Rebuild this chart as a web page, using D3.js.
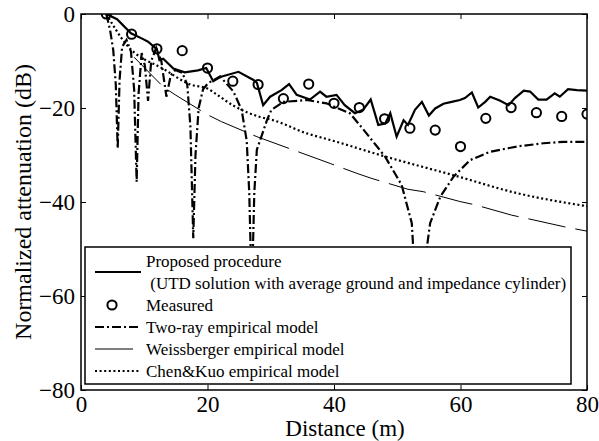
<!DOCTYPE html>
<html>
<head>
<meta charset="utf-8">
<script src="https://cdn.jsdelivr.net/npm/d3@7"></script>
<style>
  body { margin: 0; background: #fff; }
  svg { display: block; }
  svg text { font-family: "Liberation Serif", "Times New Roman", serif; }
</style>
</head>
<body>
<svg id="drawing_region"></svg>
<script>
// values (distance in m, normalized attenuation in dB)
const measuredDist = [4, 8, 12, 16, 20, 24, 28, 32, 36, 40, 44, 48, 52, 56, 60, 64, 68, 72, 76, 80];
const measuredDb = [0, -4.3, -7.4, -7.8, -11.5, -14.3, -15.0, -18.0, -14.9, -19.0, -19.9, -22.3, -24.3, -24.7, -28.2, -22.2, -19.9, -21.0, -21.8, -21.3];

const proposedDist = [4, 5.7, 7.9, 9.9, 10.6, 12.0, 12.4, 13.0, 14.6, 16.4, 18.5, 19.8, 20.9, 22.0, 24.9, 27.2, 27.8, 28.8, 29.9, 31.7,
    32.9, 34.1, 36.2, 37.8, 38.8, 40.4, 41.7, 43.3, 44.6, 45.8, 47.0, 48.1, 48.9, 49.9, 51.0, 51.7, 52.8, 53.9, 55.0, 56.0,
    57.3, 58.6, 59.9, 60.7, 61.8, 62.8, 63.9, 64.7, 66.2, 67.6, 68.6, 70.0, 71.0, 72.3, 73.6, 74.9, 75.7, 77.0, 78.4, 80];
const proposedDb = [0, -1.1, -4.1, -5.4, -5.9, -7.5, -9.8, -9.5, -11.6, -12.4, -12.0, -11.5, -14.3, -13.4, -12.3, -14.0, -14.6, -19.4, -17.6, -16.2,
    -14.9, -17.2, -18.2, -16.5, -17.6, -17.2, -19.4, -21.1, -20.4, -18.2, -23.6, -23.3, -21.1, -26.1, -22.6, -23.6, -20.4, -18.7, -21.6, -20.1,
    -19.1, -18.7, -18.3, -17.9, -16.7, -19.9, -18.7, -17.6, -18.4, -19.4, -17.9, -16.3, -16.5, -18.2, -18.2, -16.9, -17.6, -16.0, -16.2, -16.3];

const twoRayDist = [4, 4.6, 5.1, 5.5, 5.8, 6.1, 6.5, 7.2, 7.9, 8.4, 8.8, 9.1, 9.6, 10.1, 10.6, 11.1, 11.9, 12.7, 13.5, 14.2,
    14.9, 16.0, 16.8, 17.3, 17.75, 18.1, 18.6, 19.3, 20.1, 22.0, 24.1, 25.4, 26.2, 26.6, 27.0, 27.4, 27.8, 29.4, 30.1, 32.0,
    35.7, 38.8, 42.5, 44.6, 46.8, 48.1, 50.7, 52.3, 53.6, 54.7, 55.2, 56.8, 58.9, 61.5, 64.7, 68.9, 73.1, 76.3, 80];
const twoRayDb = [0, -3.4, -7.7, -15, -28.6, -14, -7, -5.5, -8, -16, -35.7, -17, -8.3, -11, -18.5, -10, -7.2, -10, -17.6, -13,
    -11.9, -12.5, -15, -24, -47.7, -30, -20, -16, -14.7, -13.3, -16.5, -20.4, -27, -38, -60, -38, -28.9, -22.6, -20.4, -18.7,
    -18.3, -19.0, -21.1, -24.5, -28.2, -30.4, -36.4, -44.5, -75, -49.5, -44.5, -38.9, -34.6, -31.1, -29.3, -28.2, -27.5, -27.2, -27.2];

const weissDist = [8.4, 13.0, 14.9, 20.1, 22.2, 27.8, 39.4, 43.6, 46.0, 51.7, 54.1, 59.9, 62.3, 68.1, 70.5, 76.5, 80];
const weissDb = [-9.2, -15.5, -17.2, -21.5, -22.9, -26.1, -31.8, -33.9, -35.0, -37.3, -37.8, -39.9, -40.6, -42.8, -43.5, -45.3, -46.2];

const chenDist = [4, 7, 13.3, 17.5, 19.9, 21.2, 24.1, 28.3, 30.4, 35.7, 39.4, 48.3, 58.9, 68.9, 80];
const chenDb = [0, -6.2, -11.9, -15.1, -15.8, -16.9, -19.5, -21.9, -22.6, -25.4, -26.8, -30.4, -34.3, -38.1, -40.9];

const xTicks = [0, 20, 40, 60, 80];
const yTicks = [0, -20, -40, -60, -80];
const legendLabels = ["Proposed procedure", " (UTD solution with average ground and impedance cylinder)",
    "Measured", "Two-ray empirical model", "Weissberger empirical model", "Chen&Kuo empirical model"];

const SERIF = '"Liberation Serif", "Times New Roman", serif';

class AttenuationChart {

    constructor(config) {
        this.config = config;
        this.init();
    }

    init() {
        let self = this;
        const c = self.config;

        self.svg = d3.select(c.parent)
            .attr('width', c.width)
            .attr('height', c.height)
            .attr('font-family', SERIF);

        self.x = d3.scaleLinear()
            .domain([0, 80])
            .range([c.margin.left, c.width - c.margin.right]);
        self.y = d3.scaleLinear()
            .domain([-80, 0])
            .range([c.height - c.margin.bottom, c.margin.top]);

        self.svg.append('clipPath')
            .attr('id', 'plot-clip')
            .append('rect')
            .attr('x', self.x(0))
            .attr('y', self.y(0))
            .attr('width', self.x(80) - self.x(0))
            .attr('height', self.y(-80) - self.y(0));
    }

    render() {
        let self = this;
        const x = self.x, y = self.y;

        const series = [
            {dist: proposedDist, db: proposedDb, width: 2.2, dash: null, curve: d3.curveLinear},
            {dist: twoRayDist, db: twoRayDb, width: 2.2, dash: '9,3,2,3', curve: d3.curveLinear},
            {dist: weissDist, db: weissDb, width: 1, dash: '38,10', curve: d3.curveLinear},
            {dist: chenDist, db: chenDb, width: 2.2, dash: '2,2.6', curve: d3.curveMonotoneX}
        ];

        const plot = self.svg.append('g').attr('clip-path', 'url(#plot-clip)');

        series.forEach(s => {
            const line = d3.line()
                .x(i => x(s.dist[i]))
                .y(i => y(s.db[i]))
                .curve(s.curve);
            plot.append('path')
                .attr('d', line(d3.range(s.dist.length)))
                .attr('fill', 'none')
                .attr('stroke', 'black')
                .attr('stroke-width', s.width)
                .attr('stroke-dasharray', s.dash);
        });

        plot.selectAll('.measured')
            .data(d3.range(measuredDist.length))
            .enter()
            .append('circle')
            .attr('class', 'measured')
            .attr('cx', i => x(measuredDist[i]))
            .attr('cy', i => y(measuredDb[i]))
            .attr('r', 4.6)
            .attr('fill', 'none')
            .attr('stroke', 'black')
            .attr('stroke-width', 2);

        // axes: ticks pointing inward on all four sides
        const tickFont = g => {
            g.attr('font-family', SERIF);
            g.selectAll('text')
                .attr('font-size', '23px')
                .attr('font-family', SERIF)
                .attr('fill', 'black');
        };

        self.svg.append('g')
            .attr('transform', `translate(0, ${y(-80)})`)
            .call(d3.axisBottom(x).tickValues(xTicks).tickSizeInner(-5).tickSizeOuter(0).tickPadding(6))
            .call(g => g.select('.domain').remove())
            .call(tickFont);
        self.svg.append('g')
            .attr('transform', `translate(0, ${y(0)})`)
            .call(d3.axisTop(x).tickValues(xTicks).tickSizeInner(-5).tickSizeOuter(0).tickFormat(''))
            .call(g => g.select('.domain').remove());
        self.svg.append('g')
            .attr('transform', `translate(${x(0)}, 0)`)
            .call(d3.axisLeft(y).tickValues(yTicks).tickSizeInner(-5).tickSizeOuter(0).tickPadding(6))
            .call(g => g.select('.domain').remove())
            .call(tickFont);
        self.svg.append('g')
            .attr('transform', `translate(${x(80)}, 0)`)
            .call(d3.axisRight(y).tickValues(yTicks).tickSizeInner(-5).tickSizeOuter(0).tickFormat(''))
            .call(g => g.select('.domain').remove());
        self.svg.selectAll('.tick line').attr('stroke', 'black').attr('stroke-width', 1);

        self.svg.append('rect')
            .attr('x', x(0))
            .attr('y', y(0))
            .attr('width', x(80) - x(0))
            .attr('height', y(-80) - y(0))
            .attr('fill', 'none')
            .attr('stroke', 'black')
            .attr('stroke-width', 1.5);

        // axis titles
        self.svg.append('text')
            .attr('x', 345)
            .attr('y', 436)
            .attr('text-anchor', 'middle')
            .attr('font-family', SERIF)
            .attr('font-size', '23px')
            .text('Distance (m)');
        self.svg.append('text')
            .attr('transform', `translate(31, ${(y(0) + y(-80)) / 2}) rotate(-90)`)
            .attr('text-anchor', 'middle')
            .attr('font-family', SERIF)
            .attr('font-size', '24px')
            .text('Normalized attenuation (dB)');

        self.legend();
    }

    legend() {
        let self = this;
        const lg = self.svg.append('g');
        const left = 85, top = 247, right = 571, bottom = 384;
        const rowH = 22, firstBase = 267;
        const base = i => firstBase + i * rowH;

        lg.append('rect')
            .attr('x', left)
            .attr('y', top)
            .attr('width', right - left)
            .attr('height', bottom - top)
            .attr('fill', 'white')
            .attr('stroke', 'black')
            .attr('stroke-width', 1.5);

        lg.selectAll('.leg-text')
            .data(legendLabels)
            .enter()
            .append('text')
            .attr('class', 'leg-text')
            .attr('x', 146)
            .attr('y', (d, i) => base(i))
            .attr('font-family', SERIF)
            .attr('font-size', '17px')
            .style('white-space', 'pre')
            .text(d => d);

        const samples = [
            {row: 0.5, width: 2.2, dash: null},
            {row: 3, width: 2.2, dash: '9,3,2,3'},
            {row: 4, width: 1, dash: '38,8'},
            {row: 5, width: 2.2, dash: '2,2.6'}
        ];
        samples.forEach(s => {
            lg.append('line')
                .attr('x1', 95).attr('x2', 141)
                .attr('y1', base(s.row) - 6).attr('y2', base(s.row) - 6)
                .attr('stroke', 'black')
                .attr('stroke-width', s.width)
                .attr('stroke-dasharray', s.dash);
        });
        lg.append('circle')
            .attr('cx', 112)
            .attr('cy', base(2) - 6)
            .attr('r', 4.6)
            .attr('fill', 'none')
            .attr('stroke', 'black')
            .attr('stroke-width', 2);
    }
}

const config = {
    parent: '#drawing_region',
    width: 599,
    height: 441,
    margin: {top: 14, right: 12, bottom: 51, left: 81}
};
const chart = new AttenuationChart(config);
chart.render();
</script>
</body>
</html>
